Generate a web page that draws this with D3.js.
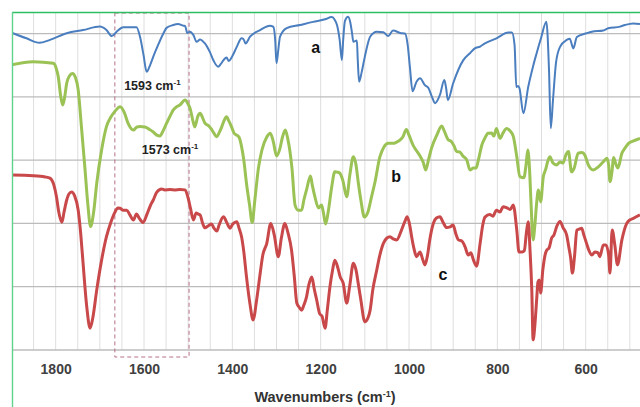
<!DOCTYPE html>
<html>
<head>
<meta charset="utf-8">
<script src="https://cdn.jsdelivr.net/npm/d3@7"></script>
<style>
  html, body { margin: 0; padding: 0; background: #fff; }
  svg { display: block; font-family: "Liberation Sans", Arial, sans-serif; }
</style>
</head>
<body>
<div id="chart"></div>
<script>
// FTIR spectra a, b, c  (wavenumber cm-1, transmittance in arbitrary %)
const width = 640;
const height = 407;

const seriesA = [[1900,100.3],[1866,98.5],[1837,97.1],[1813,98.0],[1775,100.1],[1738,101.1],[1700,102.2],[1685,101.1],[1673,99.2],[1662,100.6],[1647,102.0],[1617,102.0],[1609,99.0],[1601,93.2],[1594,87.9],[1586,90.1],[1579,92.7],[1568,96.4],[1556,100.1],[1549,101.8],[1534,102.7],[1523,103.0],[1511,102.5],[1507,102.4],[1502,100.2],[1496,100.6],[1488,99.5],[1481,97.4],[1473,98.1],[1467,97.6],[1462,96.9],[1451,94.2],[1442,91.3],[1432,89.5],[1426,90.4],[1420,91.6],[1413,92.4],[1408,91.3],[1401,92.6],[1390,95.8],[1379,98.5],[1375,98.3],[1370,96.9],[1360,99.0],[1337,101.1],[1315,102.5],[1307,102.1],[1303,98.0],[1300,90.6],[1296,94.8],[1292,99.0],[1277,101.7],[1247,102.7],[1217,103.7],[1190,104.5],[1175,105.2],[1168,104.3],[1163,102.7],[1157,98.0],[1152,91.6],[1149,98.0],[1145,104.0],[1138,105.3],[1133,103.6],[1129,100.2],[1126,97.4],[1118,97.8],[1116,91.6],[1113,84.8],[1107,87.9],[1100,92.7],[1088,99.0],[1073,100.6],[1058,100.4],[1047,99.2],[1036,101.0],[1020,100.2],[1009,100.0],[1003,96.4],[998,89.5],[992,81.8],[983,84.8],[975,85.9],[964,83.7],[956,82.8],[948,80.0],[941,78.0],[930,80.6],[920,85.3],[916,82.8],[912,79.0],[900,84.3],[877,91.6],[862,93.8],[851,95.3],[839,95.9],[828,96.9],[802,98.5],[775,100.3],[767,100.3],[761,96.4],[757,83.1],[753,83.4],[750,82.8],[741,74.8],[730,83.2],[719,89.7],[711,93.8],[701,98.6],[689,103.7],[683,88.5],[679,70.1],[674,79.0],[667,91.0],[658,95.8],[643,98.0],[636,98.4],[628,95.3],[620,98.9],[598,100.1],[586,100.6],[560,101.0],[549,101.7],[522,102.2],[511,102.7],[492,103.2],[477,103.0]];

const seriesB = [[1900,90.1],[1851,91.1],[1805,90.6],[1799,89.1],[1794,86.3],[1789,80.6],[1784,77.4],[1780,79.6],[1775,84.3],[1769,86.6],[1762,87.4],[1755,86.0],[1749,82.2],[1742,71.1],[1734,57.9],[1727,45.8],[1721,39.0],[1714,43.6],[1707,52.7],[1696,63.2],[1685,70.6],[1675,73.6],[1666,75.4],[1654,76.9],[1645,75.2],[1636,71.6],[1624,69.5],[1616,70.5],[1609,70.6],[1598,70.5],[1589,69.8],[1579,68.9],[1571,67.9],[1564,67.6],[1556,69.5],[1549,71.6],[1541,73.9],[1534,75.8],[1526,76.9],[1519,77.4],[1507,79.0],[1500,77.7],[1496,76.5],[1488,71.7],[1485,70.5],[1478,73.9],[1473,74.8],[1467,73.3],[1462,71.7],[1453,70.8],[1446,69.5],[1435,67.4],[1430,68.6],[1424,70.5],[1419,72.4],[1413,73.7],[1408,72.4],[1402,70.6],[1396,68.5],[1390,67.9],[1385,67.3],[1379,64.2],[1374,60.0],[1368,52.7],[1361,45.8],[1355,40.3],[1349,47.4],[1341,57.4],[1333,63.2],[1322,67.3],[1314,68.5],[1307,65.7],[1300,61.3],[1292,63.8],[1287,67.0],[1280,69.5],[1274,66.4],[1270,63.2],[1265,57.5],[1258,45.8],[1251,44.2],[1243,44.2],[1238,47.4],[1232,50.6],[1223,55.0],[1219,52.1],[1213,48.4],[1205,44.9],[1198,45.8],[1194,43.6],[1189,39.8],[1183,43.6],[1175,51.5],[1168,56.3],[1161,56.2],[1156,55.8],[1150,53.7],[1141,48.4],[1134,55.3],[1126,61.1],[1120,58.5],[1115,53.1],[1109,47.4],[1101,42.0],[1093,43.6],[1085,48.3],[1077,53.1],[1066,61.0],[1057,64.1],[1047,65.3],[1036,65.3],[1028,65.7],[1020,66.4],[1014,67.3],[1006,69.7],[1000,67.9],[990,64.5],[984,63.2],[975,61.3],[968,59.4],[962,56.9],[956,60.0],[949,63.8],[937,67.9],[926,70.8],[921,69.5],[911,66.4],[905,66.0],[898,64.5],[892,62.7],[885,62.6],[878,61.3],[869,60.0],[862,56.9],[854,57.5],[848,57.5],[843,60.0],[835,64.8],[828,67.0],[821,68.5],[813,68.6],[808,67.6],[802,70.0],[794,66.9],[787,68.6],[779,70.0],[771,69.2],[764,67.6],[756,61.1],[749,54.8],[740,54.4],[735,58.5],[731,63.2],[727,56.9],[724,47.4],[719,34.8],[715,39.5],[711,46.4],[707,50.6],[702,46.8],[696,54.7],[691,56.9],[685,60.0],[681,61.1],[674,59.1],[666,58.5],[658,59.4],[651,59.1],[645,61.6],[639,62.7],[632,56.3],[626,57.5],[617,62.2],[608,62.4],[602,61.6],[594,58.5],[583,56.9],[572,57.8],[560,59.5],[552,60.6],[548,58.5],[545,53.2],[540,56.9],[537,60.8],[531,58.5],[527,57.5],[518,62.2],[511,63.8],[503,65.3],[493,66.0],[477,66.9]];

const seriesC = [[1900,55.3],[1851,55.1],[1824,54.7],[1813,54.3],[1804,52.1],[1798,48.3],[1793,43.6],[1786,40.4],[1781,43.6],[1775,47.4],[1770,49.3],[1764,49.9],[1757,48.7],[1749,44.2],[1743,36.3],[1738,27.5],[1730,14.2],[1722,6.9],[1716,10.1],[1707,19.0],[1696,28.4],[1685,35.8],[1675,40.4],[1666,43.5],[1659,44.9],[1654,44.8],[1648,44.2],[1639,44.2],[1632,42.7],[1624,41.1],[1617,43.0],[1611,41.7],[1602,40.3],[1593,43.0],[1586,45.5],[1579,47.4],[1571,49.9],[1560,50.9],[1553,50.6],[1541,50.7],[1530,50.6],[1519,50.7],[1507,50.6],[1500,48.0],[1495,44.9],[1488,41.1],[1482,43.3],[1478,43.0],[1473,42.7],[1468,40.4],[1462,38.6],[1455,39.2],[1447,39.8],[1442,38.6],[1435,37.6],[1430,39.5],[1420,42.1],[1413,40.4],[1405,38.5],[1399,39.8],[1390,40.5],[1385,38.6],[1379,35.7],[1374,31.0],[1368,23.2],[1360,14.5],[1353,9.5],[1345,15.8],[1337,24.2],[1331,30.0],[1322,33.7],[1313,40.0],[1305,36.3],[1296,29.5],[1289,35.4],[1281,40.0],[1274,37.0],[1266,31.6],[1260,23.7],[1254,14.8],[1249,13.6],[1243,12.6],[1238,14.2],[1232,16.8],[1227,20.5],[1220,23.1],[1215,19.6],[1209,15.8],[1202,11.4],[1197,10.7],[1190,6.9],[1185,12.6],[1179,20.0],[1173,25.3],[1168,28.4],[1161,25.9],[1156,23.2],[1149,21.1],[1141,14.8],[1134,20.5],[1126,27.4],[1120,25.3],[1115,21.1],[1109,15.8],[1100,8.9],[1093,10.1],[1088,12.6],[1082,19.0],[1073,25.3],[1066,30.0],[1058,33.7],[1050,35.4],[1043,35.8],[1036,35.1],[1028,34.8],[1017,37.9],[1010,40.4],[1004,42.1],[998,39.2],[994,35.8],[989,32.2],[983,29.5],[975,31.0],[970,29.1],[964,26.9],[958,30.0],[953,34.8],[945,40.0],[938,41.7],[930,42.1],[923,40.4],[915,38.7],[907,38.9],[900,39.5],[894,36.7],[888,34.8],[880,34.4],[873,32.6],[866,30.0],[860,30.7],[854,28.4],[847,26.5],[839,33.7],[833,39.5],[828,42.0],[817,42.8],[810,42.3],[802,44.2],[794,43.6],[787,45.3],[778,44.9],[771,44.4],[764,45.8],[756,37.9],[751,31.0],[744,31.0],[739,31.3],[734,37.3],[730,40.5],[726,31.6],[722,19.0],[719,3.2],[715,7.9],[711,15.8],[708,21.5],[705,22.1],[702,18.0],[697,25.3],[692,30.0],[688,31.6],[683,32.2],[677,35.4],[672,36.3],[665,39.2],[658,40.6],[651,38.6],[643,36.3],[639,33.2],[634,29.1],[630,24.3],[625,30.0],[620,37.9],[615,38.2],[609,38.5],[604,36.3],[598,33.7],[593,31.6],[586,30.0],[579,31.0],[572,30.7],[568,29.5],[560,33.2],[554,33.2],[548,30.0],[545,24.3],[540,37.9],[534,33.2],[528,26.9],[518,34.8],[507,40.0],[500,41.1],[492,41.6],[477,42.7]];

const xTicks = [1800, 1600, 1400, 1200, 1000, 800, 600];
const xGrid = d3.range(1850, 450, -50);
const yGrid = [0, 20, 40, 60, 80, 100];

// highlighted band (dashed box) and annotations
const boxWave = [1666, 1498];
const peakLabels = [
    { text: "1593", w: 1645, t: 82.3 },
    { text: "1573", w: 1605, t: 61.8 }
];
const curveLabels = [
    { text: "a", w: 1211, t: 93.8 },
    { text: "b", w: 1029, t: 53.1 },
    { text: "c", w: 923, t: 22.2 }
];

const svg = d3.select("#chart")
    .append("svg")
    .attr("width", width)
    .attr("height", height);

svg.append("rect")
    .attr("width", width)
    .attr("height", height)
    .attr("fill", "#fff");

const x = d3.scaleLinear().domain([1900, 400]).range([11.5, 674]);
const y = d3.scaleLinear().domain([0, 106.5]).range([350, 13]);

const plotLeft = 12.5, plotRight = width;

svg.append("clipPath").attr("id", "clip")
    .append("rect")
    .attr("x", plotLeft)
    .attr("y", 13)
    .attr("width", plotRight - plotLeft)
    .attr("height", 350 - 13);

// vertical grid
svg.append("g")
    .selectAll("line")
    .data(xGrid)
    .join("line")
    .attr("x1", d => x(d)).attr("x2", d => x(d))
    .attr("y1", y(106.5)).attr("y2", y(0))
    .attr("stroke", "#dedede")
    .attr("stroke-width", 1);

// horizontal grid
svg.append("g")
    .selectAll("line")
    .data(yGrid)
    .join("line")
    .attr("x1", plotLeft).attr("x2", plotRight)
    .attr("y1", d => y(d)).attr("y2", d => y(d))
    .attr("stroke", "#bcbcbc")
    .attr("stroke-width", 1.3);

// dashed box
svg.append("rect")
    .attr("x", x(boxWave[0]))
    .attr("y", y(106.5))
    .attr("width", x(boxWave[1]) - x(boxWave[0]))
    .attr("height", y(0) + 7 - y(106.5))
    .attr("fill", "none")
    .attr("stroke", "#b5708a")
    .attr("stroke-width", 1)
    .attr("stroke-dasharray", "4,3");

const line = d3.line()
    .x(d => x(d[0]))
    .y(d => y(d[1]))
    .curve(d3.curveMonotoneX);

const series = [
    { data: seriesA, color: "#4a7ebf", width: 2 },
    { data: seriesB, color: "#9bc255", width: 3 },
    { data: seriesC, color: "#c9484a", width: 3 }
];

svg.append("g")
    .attr("clip-path", "url(#clip)")
    .selectAll("path")
    .data(series)
    .join("path")
    .attr("d", d => line(d.data))
    .attr("fill", "none")
    .attr("stroke", d => d.color)
    .attr("stroke-width", d => d.width)
    .attr("stroke-linejoin", "round");

// peak annotations with superscript
const pl = svg.append("g")
    .selectAll("text")
    .data(peakLabels)
    .join("text")
    .attr("x", d => x(d.w))
    .attr("y", d => y(d.t))
    .attr("font-size", 12.5)
    .attr("font-weight", "bold")
    .attr("fill", "#222");
pl.append("tspan").text(d => d.text + " cm");
pl.append("tspan").attr("dy", -5).attr("font-size", 8).text("-1");

svg.append("g")
    .selectAll("text")
    .data(curveLabels)
    .join("text")
    .attr("x", d => x(d.w))
    .attr("y", d => y(d.t))
    .attr("text-anchor", "middle")
    .attr("font-size", 16)
    .attr("font-weight", "bold")
    .attr("fill", "#111")
    .text(d => d.text);

// x axis labels
const xAxis = d3.axisBottom(x)
    .tickValues(xTicks)
    .tickFormat(d3.format("d"))
    .tickSize(0)
    .tickPadding(14);
const gx = svg.append("g")
    .attr("transform", `translate(0,${y(0)})`)
    .call(xAxis);
gx.select(".domain").remove();
gx.selectAll("text")
    .attr("font-size", 14)
    .attr("font-weight", "bold")
    .attr("fill", "#404040")
    .attr("font-family", "Liberation Sans, Arial, sans-serif");

const title = svg.append("text")
    .attr("x", 325)
    .attr("y", 402)
    .attr("text-anchor", "middle")
    .attr("font-size", 14.5)
    .attr("font-weight", "bold")
    .attr("fill", "#333");
title.append("tspan").text("Wavenumbers (cm");
title.append("tspan").attr("dy", -5).attr("font-size", 9).text("-1");
title.append("tspan").attr("dy", 5).text(")");

// chart frame
svg.append("line")
    .attr("x1", 12).attr("x2", width)
    .attr("y1", 12.5).attr("y2", 12.5)
    .attr("stroke", "#2fbf62")
    .attr("stroke-width", 1.6);
svg.append("line")
    .attr("x1", 12.5).attr("x2", 12.5)
    .attr("y1", 12).attr("y2", height)
    .attr("stroke", "#5fd38c")
    .attr("stroke-width", 1.4);
</script>
</body>
</html>
